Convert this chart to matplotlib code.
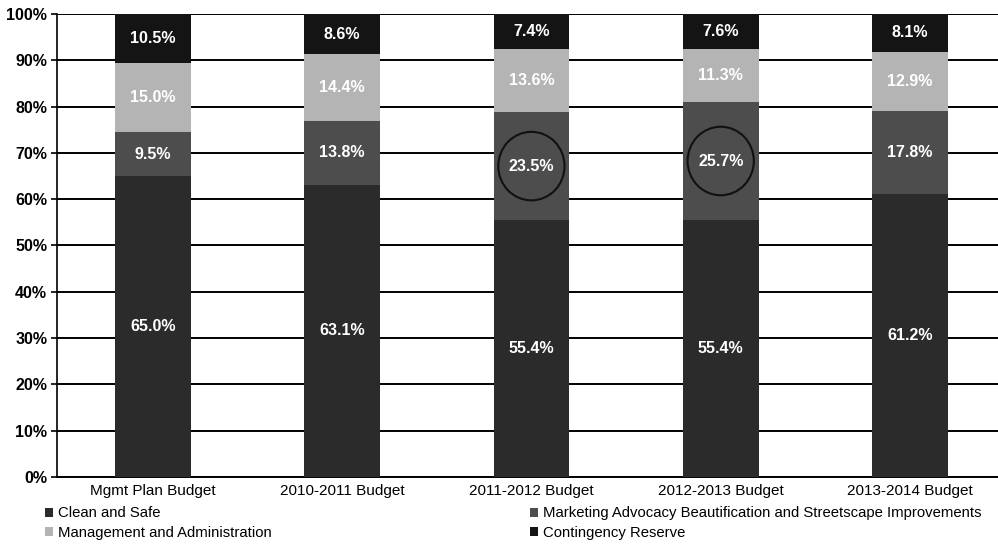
import matplotlib
matplotlib.use("Agg")
import matplotlib.pyplot as plt
from matplotlib.patches import Ellipse, Patch
import numpy as np

plt.rcParams['font.family'] = ['Liberation Sans', 'DejaVu Sans']

categories = ["Mgmt Plan Budget", "2010-2011 Budget", "2011-2012 Budget",
              "2012-2013 Budget", "2013-2014 Budget"]
clean_safe = [65.0, 63.1, 55.4, 55.4, 61.2]
marketing = [9.5, 13.8, 23.5, 25.7, 17.8]
management = [15.0, 14.4, 13.6, 11.3, 12.9]
contingency = [10.5, 8.6, 7.4, 7.6, 8.1]
circled = [2, 3]

series = [
    ("Clean and Safe", clean_safe, "#2b2b2b"),
    ("Marketing Advocacy Beautification and Streetscape Improvements", marketing, "#4d4d4d"),
    ("Management and Administration", management, "#b4b4b4"),
    ("Contingency Reserve", contingency, "#141414"),
]

fig = plt.figure(figsize=(9.98, 5.45), dpi=100)
ax = fig.add_axes([0.057, 0.1248, 0.943, 0.8495])

x = np.arange(len(categories))
width = 0.4
bottom = np.zeros(len(categories))
for name, vals, col in series:
    vals = np.array(vals)
    ax.bar(x, vals, width, bottom=bottom, color=col, edgecolor='none', zorder=3)
    for xi, b, v in zip(x, bottom, vals):
        ax.text(xi, b + v / 2, f"{v:.1f}%", ha='center', va='center', color='white',
                fontsize=11.5, fontweight='bold', zorder=5)
    bottom += vals

# circles around highlighted labels
for i in circled:
    yc = clean_safe[i] + marketing[i] / 2
    ax.add_patch(Ellipse((x[i], yc), 0.35, 14.8, fill=False, edgecolor='#111111',
                         linewidth=1.5, zorder=6))

ax.set_ylim(0, 100)
ax.set_xlim(-0.507, 4.465)
ax.set_yticks(np.arange(0, 101, 10))
ax.set_yticklabels([f"{v}%" for v in range(0, 101, 10)], fontsize=11.5, fontweight='bold')
ax.set_xticks(x)
ax.set_xticklabels(categories, fontsize=11)
ax.yaxis.grid(True, color='black', linewidth=1.4, zorder=1)
ax.set_axisbelow(True)
for s in ['top', 'right']:
    ax.spines[s].set_visible(False)
ax.spines['left'].set_linewidth(1.2)
ax.spines['bottom'].set_linewidth(1.4)
ax.tick_params(axis='x', length=0, pad=5)
ax.tick_params(axis='y', length=4, width=1.2, pad=3)

cmap = {n: c for n, _, c in series}
col1 = ["Clean and Safe", "Management and Administration"]
col2 = ["Marketing Advocacy Beautification and Streetscape Improvements",
        "Contingency Reserve"]
for names, xa in ((col1, 0.045), (col2, 0.531)):
    fig.legend([Patch(facecolor=cmap[n]) for n in names], names,
               loc='upper left', bbox_to_anchor=(xa, 0.071), ncol=1,
               frameon=False, handlelength=0.55, handleheight=0.55,
               handletextpad=0.3, labelspacing=0.4, borderaxespad=0,
               borderpad=0, prop={'size': 10.75})

fig.savefig("out.png", dpi=100)
